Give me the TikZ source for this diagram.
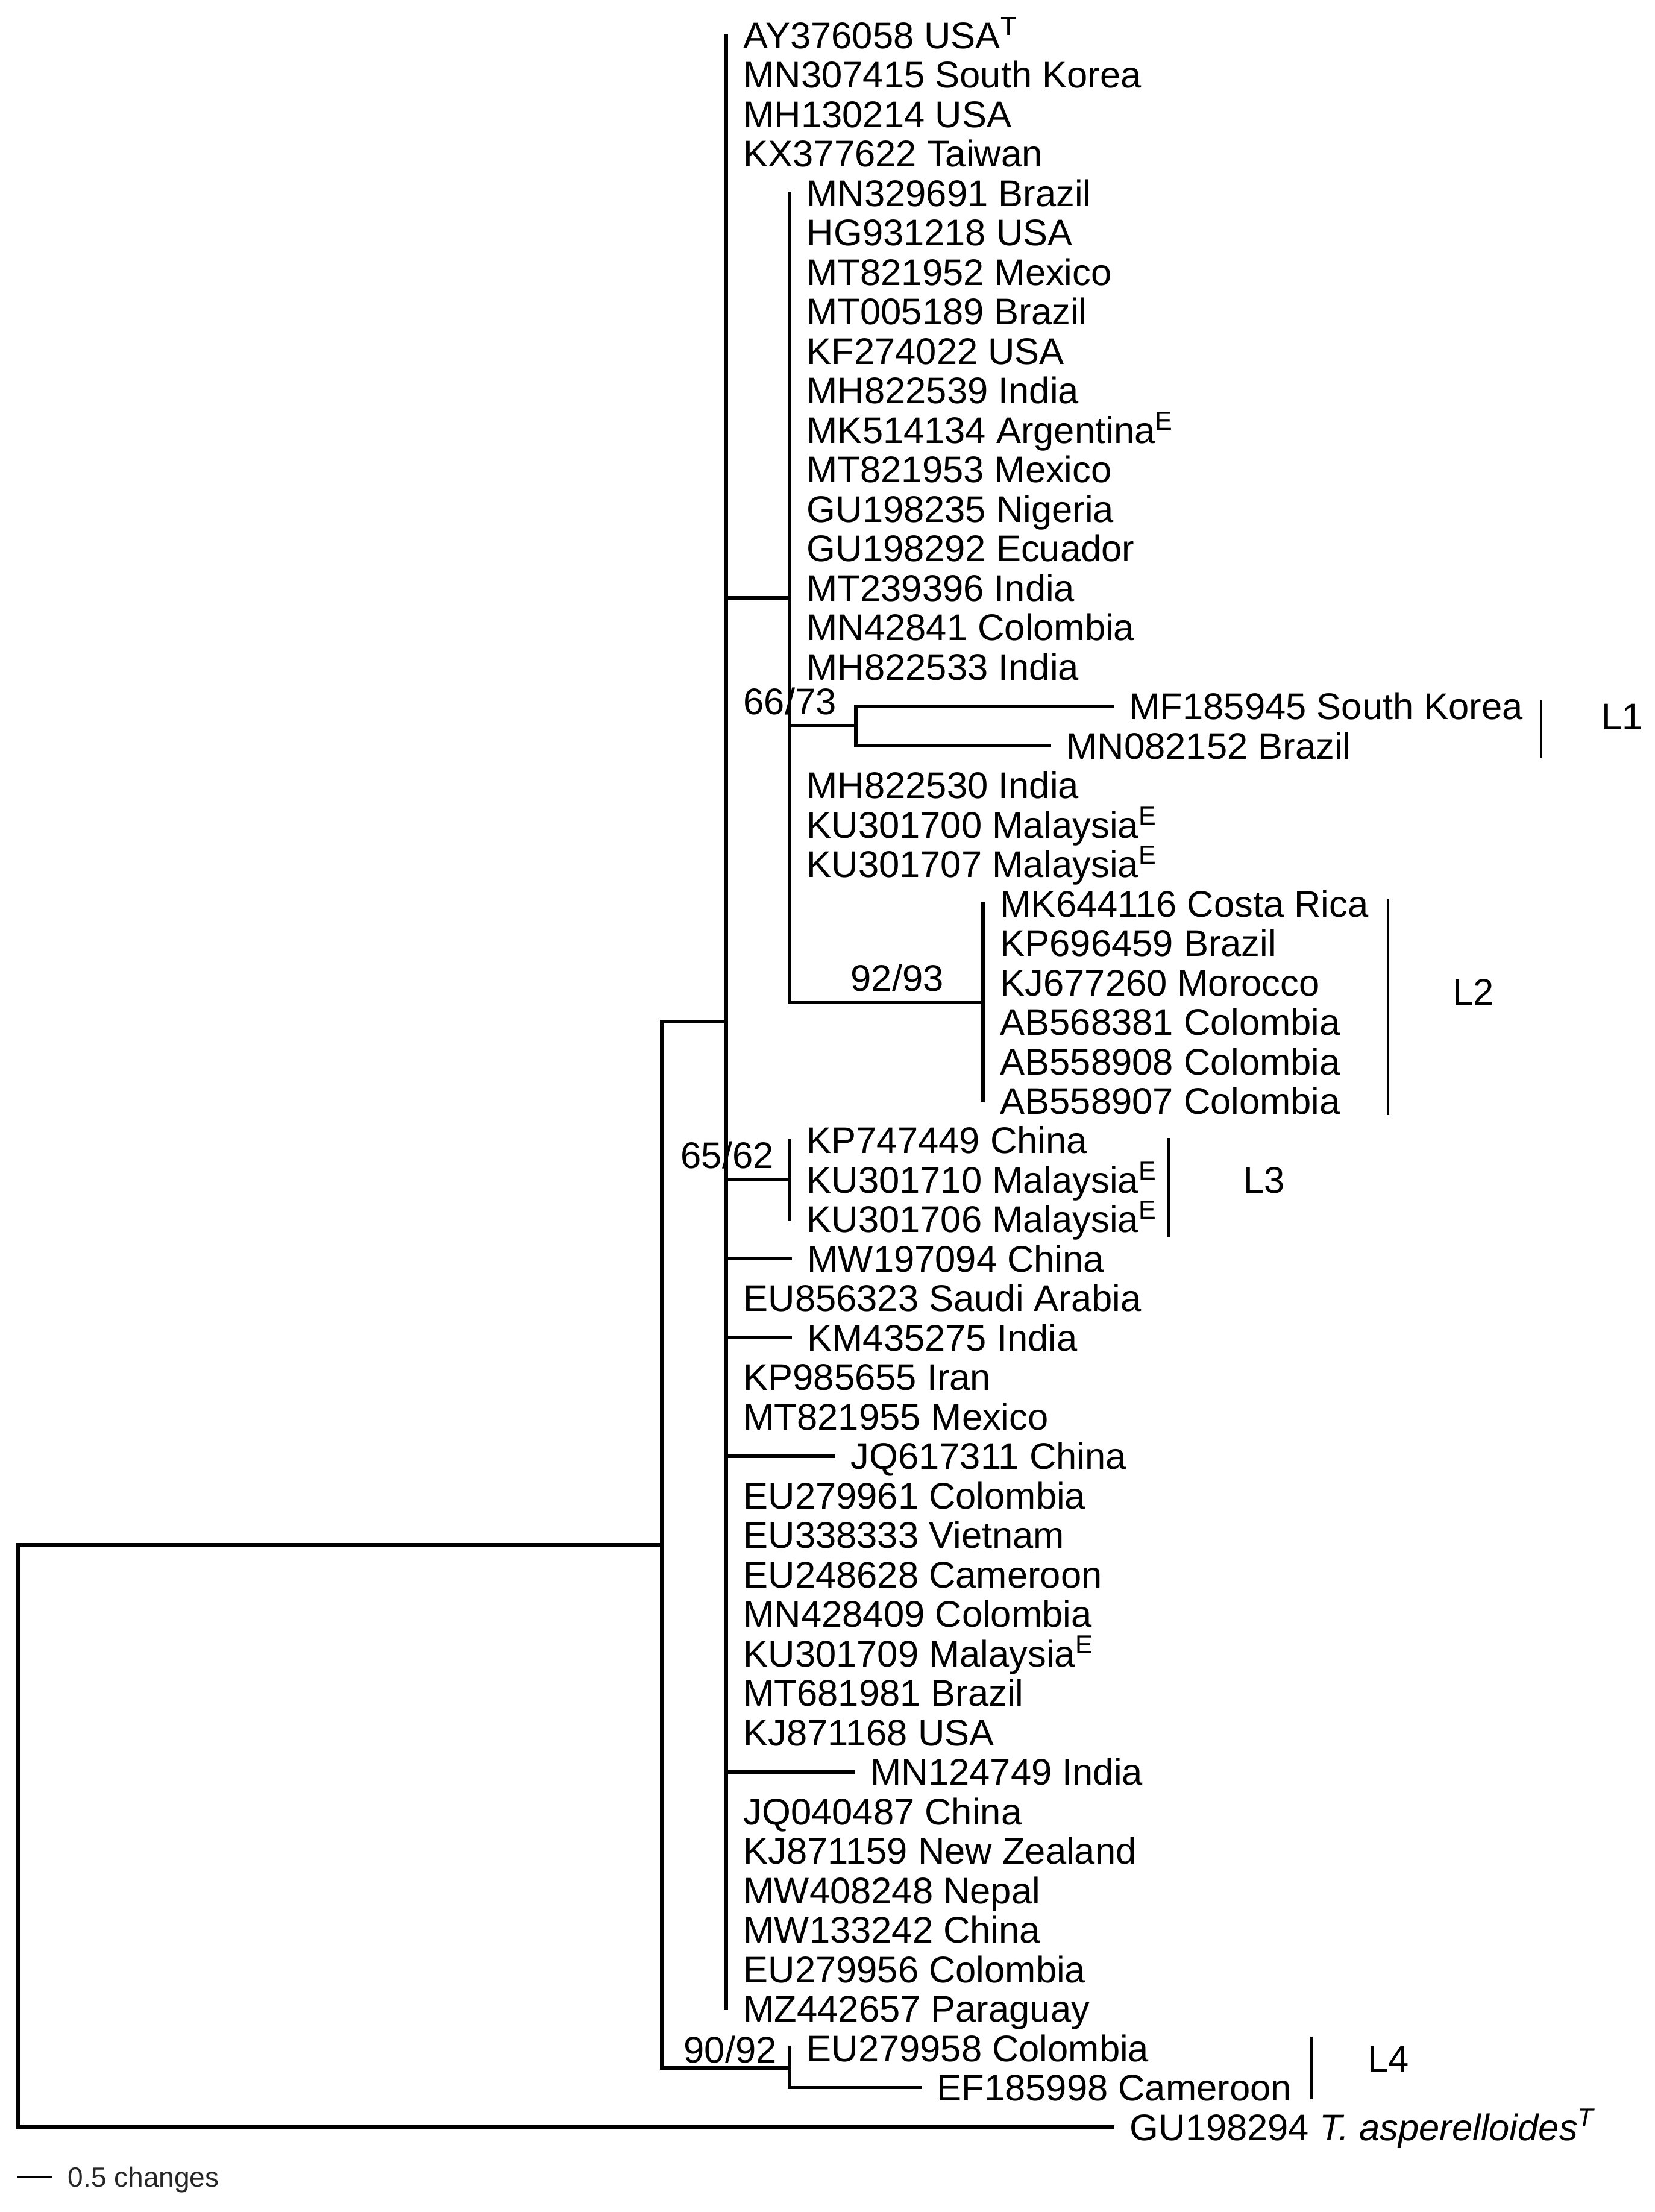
\documentclass[tikz,border=0pt]{standalone}
\usepackage{fontspec}
\setmainfont{Liberation Sans}
\begin{document}
\begin{tikzpicture}[x=0.1mm,y=-6.548mm,
  br/.style={line width=0.58mm,line cap=rect},
  cladebar/.style={line width=0.35mm},
  leaf/.style={anchor=west,inner xsep=2.8mm,inner ysep=0pt,text height=4.4mm,text depth=0pt,font=\fontsize{17.5pt}{20pt}\selectfont},
  lab/.style={anchor=west,inner sep=0pt,text height=4.4mm,text depth=0pt,font=\fontsize{17.5pt}{20pt}\selectfont},
  scaletext/.style={anchor=west,inner xsep=2.6mm,inner ysep=0pt,text height=3.2mm,text depth=0pt,font=\fontsize{13.1pt}{15pt}\selectfont,text=black!85}
]
\useasboundingbox (0,0.1066) rectangle (2745,56.154);

% internal nodes
\coordinate (root) at (30,46.625);
\coordinate (ing) at (1098,39.25);
\coordinate (main) at (1205,26);
\coordinate (subA) at (1310,15.25);
\coordinate (nL1) at (1420,18.5);
\coordinate (nL2) at (1631,25.5);
\coordinate (nL3) at (1310,30);
\coordinate (nL4) at (1310,52.5);

% leaves
\node[leaf] (t1) at (1205,1) {AY376058 USA\textsuperscript{T}};
\node[leaf] (t2) at (1205,2) {MN307415 South Korea};
\node[leaf] (t3) at (1205,3) {MH130214 USA};
\node[leaf] (t4) at (1205,4) {KX377622 Taiwan};
\node[leaf] (t5) at (1310,5) {MN329691 Brazil};
\node[leaf] (t6) at (1310,6) {HG931218 USA};
\node[leaf] (t7) at (1310,7) {MT821952 Mexico};
\node[leaf] (t8) at (1310,8) {MT005189 Brazil};
\node[leaf] (t9) at (1310,9) {KF274022 USA};
\node[leaf] (t10) at (1310,10) {MH822539 India};
\node[leaf] (t11) at (1310,11) {MK514134 Argentina\textsuperscript{E}};
\node[leaf] (t12) at (1310,12) {MT821953 Mexico};
\node[leaf] (t13) at (1310,13) {GU198235 Nigeria};
\node[leaf] (t14) at (1310,14) {GU198292 Ecuador};
\node[leaf] (t15) at (1310,15) {MT239396 India};
\node[leaf] (t16) at (1310,16) {MN42841 Colombia};
\node[leaf] (t17) at (1310,17) {MH822533 India};
\node[leaf] (t18) at (1845,18) {MF185945 South Korea};
\node[leaf] (t19) at (1741,19) {MN082152 Brazil};
\node[leaf] (t20) at (1310,20) {MH822530 India};
\node[leaf] (t21) at (1310,21) {KU301700 Malaysia\textsuperscript{E}};
\node[leaf] (t22) at (1310,22) {KU301707 Malaysia\textsuperscript{E}};
\node[leaf] (t23) at (1631,23) {MK644116 Costa Rica};
\node[leaf] (t24) at (1631,24) {KP696459 Brazil};
\node[leaf] (t25) at (1631,25) {KJ677260 Morocco};
\node[leaf] (t26) at (1631,26) {AB568381 Colombia};
\node[leaf] (t27) at (1631,27) {AB558908 Colombia};
\node[leaf] (t28) at (1631,28) {AB558907 Colombia};
\node[leaf] (t29) at (1310,29) {KP747449 China};
\node[leaf] (t30) at (1310,30) {KU301710 Malaysia\textsuperscript{E}};
\node[leaf] (t31) at (1310,31) {KU301706 Malaysia\textsuperscript{E}};
\node[leaf] (t32) at (1311,32) {MW197094 China};
\node[leaf] (t33) at (1205,33) {EU856323 Saudi Arabia};
\node[leaf] (t34) at (1311,34) {KM435275 India};
\node[leaf] (t35) at (1205,35) {KP985655 Iran};
\node[leaf] (t36) at (1205,36) {MT821955 Mexico};
\node[leaf] (t37) at (1383,37) {JQ617311 China};
\node[leaf] (t38) at (1205,38) {EU279961 Colombia};
\node[leaf] (t39) at (1205,39) {EU338333 Vietnam};
\node[leaf] (t40) at (1205,40) {EU248628 Cameroon};
\node[leaf] (t41) at (1205,41) {MN428409 Colombia};
\node[leaf] (t42) at (1205,42) {KU301709 Malaysia\textsuperscript{E}};
\node[leaf] (t43) at (1205,43) {MT681981 Brazil};
\node[leaf] (t44) at (1205,44) {KJ871168 USA};
\node[leaf] (t45) at (1416,45) {MN124749 India};
\node[leaf] (t46) at (1205,46) {JQ040487 China};
\node[leaf] (t47) at (1205,47) {KJ871159 New Zealand};
\node[leaf] (t48) at (1205,48) {MW408248 Nepal};
\node[leaf] (t49) at (1205,49) {MW133242 China};
\node[leaf] (t50) at (1205,50) {EU279956 Colombia};
\node[leaf] (t51) at (1205,51) {MZ442657 Paraguay};
\node[leaf] (t52) at (1310,52) {EU279958 Colombia};
\node[leaf] (t53) at (1526,53) {EF185998 Cameroon};
\node[leaf] (t54) at (1846,54) {GU198294 \textit{T. asperelloides\textsuperscript{T}}};

% branches: verticals
\draw[br] (root|-ing) -- (root|-t54);
\draw[br] (ing|-main) -- (ing|-nL4);
\draw[br] (main|-t1) -- (main|-t51);
\draw[br] (subA|-t5) -- (subA|-nL2);
\draw[br] (nL1|-t18) -- (nL1|-t19);
\draw[br] (nL2|-t23) -- (nL2|-t28);
\draw[br] (nL3|-t29) -- (nL3|-t31);
\draw[br] (nL4|-t52) -- (nL4|-t53);
% branches: horizontals
\draw[br] (root|-ing) -- (ing);
\draw[br] (root|-t54) -- (t54.west);
\draw[br] (ing|-main) -- (main);
\draw[br] (ing|-nL4) -- (nL4);
\draw[br] (main|-subA) -- (subA);
\draw[br] (main|-nL3) -- (nL3);
\draw[br] (subA|-nL1) -- (nL1);
\draw[br] (subA|-nL2) -- (nL2);
\draw[br] (nL1|-t18) -- (t18.west);
\draw[br] (nL1|-t19) -- (t19.west);
\draw[br] (nL4|-t53) -- (t53.west);
\draw[br] (main|-t32) -- (t32.west);
\draw[br] (main|-t34) -- (t34.west);
\draw[br] (main|-t37) -- (t37.west);
\draw[br] (main|-t45) -- (t45.west);

% support values
\node[lab] (s1) at (1233,17.87) {66/73};
\node[lab] (s2) at (1411,24.88) {92/93};
\node[lab] (s3) at (1129,29.38) {65/62};
\node[lab] (s4) at (1134,52.03) {90/92};

% clade bars and labels
\draw[cladebar] (2557,17.85) -- (2557,19.32);
\node[lab] (L1) at (2657,18.25) {L1};
\draw[cladebar] (2303,22.89) -- (2303,28.36);
\node[lab] (L2) at (2410,25.23) {L2};
\draw[cladebar] (1939,28.94) -- (1939,31.45);
\node[lab] (L3) at (2063,30) {L3};
\draw[cladebar] (2176,51.71) -- (2176,53.30);
\node[lab] (L4) at (2269,52.26) {L4};

% scale bar
\coordinate (sb0) at (28,55.27);
\node[scaletext] (sb) at (86,55.27) {0.5 changes};
\draw[line width=0.4mm] (sb0) -- (sb.west);
\end{tikzpicture}
\end{document}
